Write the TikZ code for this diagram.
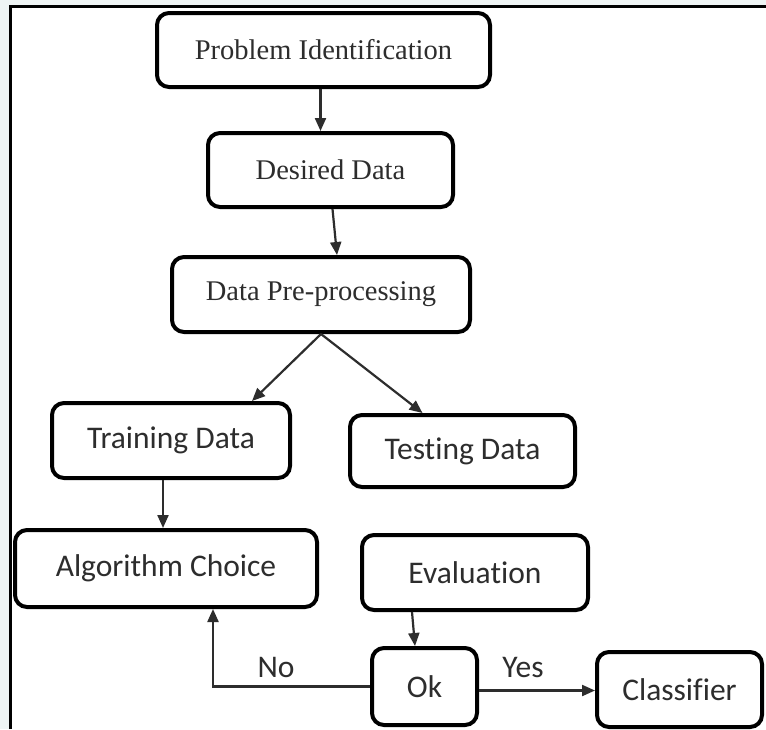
\documentclass[tikz,border=0pt]{standalone}
\usepackage{fontspec}
\setmainfont{Liberation Serif}
\newfontfamily\calib[Ligatures={NoCommon,NoContextual}]{Carlito}
\usetikzlibrary{arrows.meta}
\definecolor{bgray}{RGB}{238,244,244}
\definecolor{txt}{RGB}{45,45,45}
\tikzset{
  box/.style={draw=black, line width=4pt, rounded corners=12pt, fill=white, text=txt, inner sep=0pt},
  serifbox/.style={box, font=\fontsize{28.5}{32}\selectfont},
  sansbox/.style={box, font=\calib\fontsize{31.5}{36}\selectfont},
  arr/.style={line width=2.2pt, draw=txt, -{Triangle[length=13pt,width=11pt]}},
  lbl/.style={text=txt, font=\calib\fontsize{31.5}{36}\selectfont, inner sep=0pt}
}
\begin{document}
\begin{tikzpicture}[x=1pt,y=-1pt]
\useasboundingbox (0,0) rectangle (766,729);
\fill[bgray] (0,0) rectangle (766,729);
\fill[white] (10,6) rectangle (766,729);
\draw[line width=3pt, black] (10,729) -- (10,6) -- (766,6);

\node[serifbox, minimum width=333pt, minimum height=74pt] (pi) at (323.5,50) {Problem Identification};
\node[serifbox, minimum width=245pt, minimum height=74pt] (dd) at (330.5,170) {Desired Data};
\node[serifbox, minimum width=298pt, minimum height=75pt] (pre) at (321,294.5) {Data Pre-processing};
\node[sansbox, minimum width=238pt, minimum height=75pt] (tr) at (171,440.5) {Training Data};
\node[sansbox, minimum width=225pt, minimum height=72pt] (te) at (462.5,451) {Testing Data};
\node[sansbox, minimum width=302pt, minimum height=77pt] (alg) at (166,568.5) {Algorithm Choice};
\node[sansbox, minimum width=226pt, minimum height=75pt] (ev) at (475,572.5) {Evaluation};
\node[sansbox, minimum width=105pt, minimum height=77pt] (ok) at (424.5,686.5) {Ok};
\node[sansbox, minimum width=165pt, minimum height=75pt] (cl) at (679.5,689.5) {Classifier};

\draw[arr] ([xshift=-3pt]pi.south) -- ([xshift=-3pt]pi.south |- dd.north);
\draw[arr] ([xshift=2pt]dd.south) -- ([xshift=16pt]pre.north);
\draw[arr] (pre.south) -- ([xshift=81pt]tr.north);
\draw[arr] (pre.south) -- ([xshift=-40pt]te.north);
\draw[arr] ([xshift=-8pt]tr.south) -- ([xshift=-3pt]alg.north);
\draw[arr] ([xshift=-63pt]ev.south) -- ([xshift=-9.5pt]ok.north);
\draw[arr] ([yshift=-4pt]ok.east) -- ([yshift=-4pt]ok.east -| cl.west);
\draw[arr] (ok.west) -| ([xshift=47pt]alg.south);

\node[lbl] (no) at (276,667) {No};
\node[lbl] (yes) at (523,667) {Yes};
\end{tikzpicture}
\end{document}
